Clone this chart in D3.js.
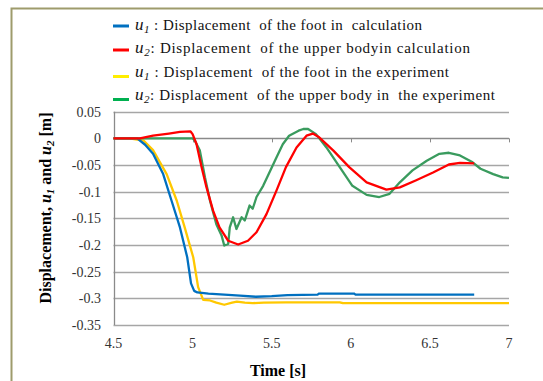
<!DOCTYPE html>
<html><head><meta charset="utf-8">
<script src="https://cdn.jsdelivr.net/npm/d3@7"></script>
<style>
html,body{margin:0;padding:0;background:#fff;}
svg{display:block;}
text{font-family:"Liberation Serif","Times New Roman",serif;}
</style></head>
<body>
<svg id="c" width="543" height="381"></svg>
<script>
// ---- data ----
const xTicks = [4.5, 5, 5.5, 6, 6.5, 7];
const yTicks = [0.05, 0, -0.05, -0.1, -0.15, -0.2, -0.25, -0.3, -0.35];

const footCalcT = [4.5, 4.65, 4.7, 4.75, 4.814, 4.867, 4.92, 4.966, 4.99, 5.01, 5.03, 5.1, 5.2, 5.3, 5.4, 5.5, 5.6, 5.79, 5.8, 6.02, 6.03, 6.5, 6.78];
const footCalcV = [0, 0, -0.012, -0.029, -0.067, -0.117, -0.167, -0.223, -0.272, -0.286, -0.289, -0.291, -0.293, -0.295, -0.297, -0.296, -0.294, -0.293, -0.291, -0.291, -0.293, -0.293, -0.293];

const bodyCalcT = [4.5, 4.667, 4.75, 4.85, 4.92, 4.987, 5.0, 5.025, 5.057, 5.088, 5.13, 5.17, 5.225, 5.288, 5.35, 5.404, 5.467, 5.53, 5.59, 5.657, 5.72, 5.76, 5.8, 5.89, 5.99, 6.1, 6.225, 6.31, 6.41, 6.52, 6.62, 6.69, 6.78];
const bodyCalcV = [0, 0, 0.005, 0.009, 0.012, 0.013, 0.008, -0.011, -0.054, -0.092, -0.136, -0.167, -0.192, -0.199, -0.192, -0.176, -0.142, -0.098, -0.054, -0.017, 0.005, 0.009, 0.002, -0.023, -0.054, -0.0825, -0.096, -0.092, -0.079, -0.064, -0.049, -0.046, -0.047];

const footExpT = [4.5, 4.6, 4.69, 4.75, 4.836, 4.9, 4.95, 5.004, 5.035, 5.067, 5.11, 5.15, 5.2, 5.25, 5.28, 5.33, 5.38, 5.45, 5.59, 5.93, 5.95, 7.0];
const footExpV = [0, 0, -0.004, -0.022, -0.067, -0.117, -0.167, -0.223, -0.279, -0.303, -0.304, -0.308, -0.312, -0.308, -0.306, -0.308, -0.309, -0.308, -0.3075, -0.3075, -0.309, -0.309];

const bodyExpT = [4.5, 5.0, 5.014, 5.046, 5.078, 5.11, 5.15, 5.183, 5.2, 5.225, 5.235, 5.256, 5.277, 5.31, 5.33, 5.36, 5.38, 5.404, 5.446, 5.49, 5.53, 5.57, 5.61, 5.67, 5.7, 5.73, 5.78, 5.846, 5.93, 6.01, 6.1, 6.18, 6.245, 6.31, 6.39, 6.48, 6.56, 6.62, 6.69, 6.77, 6.82, 6.9, 6.96, 7.0];
const bodyExpV = [0, 0, -0.004, -0.023, -0.073, -0.117, -0.161, -0.182, -0.201, -0.198, -0.167, -0.148, -0.17, -0.148, -0.154, -0.126, -0.132, -0.11, -0.089, -0.061, -0.036, -0.011, 0.005, 0.0144, 0.0176, 0.0176, 0.008, -0.017, -0.054, -0.089, -0.106, -0.11, -0.104, -0.0825, -0.06, -0.042, -0.029, -0.027, -0.032, -0.045, -0.057, -0.067, -0.073, -0.074];

const seriesSub = ["1", "2", "1", "2"];
const seriesLabels = [
  " : Displacement  of the foot in  calculation",
  ": Displacement  of the upper bodyin calculation",
  " : Displacement  of the foot in the experiment",
  ": Displacement  of the upper body in  the experiment"
];
const lineColors = ["#0070c0", "#ff0000", "#ffc800", "#3a9b5e"];
const legendColors = ["#0070c0", "#ff0000", "#ffee00", "#00b050"];

// ---- layout ----
const svg = d3.select("#c");
const x = d3.scaleLinear().domain([4.5, 7]).range([113.5, 509]);
const y = d3.scaleLinear().domain([-0.35, 0.05]).range([325, 111.7]);

// outer frame
svg.append("rect").attr("x", 11.5).attr("y", 8.5).attr("width", 560).attr("height", 400)
  .attr("fill", "#fff").attr("stroke", "#9e9b6c").attr("stroke-width", 2);

// gridlines
svg.append("g").selectAll("line").data(yTicks).join("line")
  .attr("x1", x(4.5)).attr("x2", x(7))
  .attr("y1", d => Math.round(y(d)) + 0.5).attr("y2", d => Math.round(y(d)) + 0.5)
  .attr("stroke", d => d === 0 ? "#8a8a8a" : "#a6a6a6").attr("stroke-width", 1.3);

// left axis line
svg.append("line").attr("x1", Math.round(x(4.5)) + 0.5).attr("x2", Math.round(x(4.5)) + 0.5)
  .attr("y1", y(0.05)).attr("y2", y(-0.35)).attr("stroke", "#8a8a8a").attr("stroke-width", 1.3);

// ticks on zero line
svg.append("g").selectAll("line").data(xTicks).join("line")
  .attr("x1", d => Math.round(x(d)) + 0.5).attr("x2", d => Math.round(x(d)) + 0.5)
  .attr("y1", y(0)).attr("y2", y(0) + 4).attr("stroke", "#8a8a8a").attr("stroke-width", 1);

// tick labels
svg.append("g").selectAll("text").data(yTicks).join("text")
  .attr("x", 101).attr("y", d => y(d)).attr("dy", "0.35em")
  .attr("text-anchor", "end").attr("font-size", 14).attr("fill", "#333")
  .text(d => d === 0 ? "0" : String(d));
svg.append("g").selectAll("text").data(xTicks).join("text")
  .attr("x", d => x(d)).attr("y", 343).attr("dy", "0.35em")
  .attr("text-anchor", "middle").attr("font-size", 14).attr("fill", "#333")
  .text(d => String(d));

// axis titles
svg.append("text").attr("x", 278).attr("y", 370).attr("dy", "0.35em")
  .attr("text-anchor", "middle").attr("font-size", 16).attr("font-weight", "bold")
  .text("Time [s]");
const yt = svg.append("text").attr("transform", "translate(45,208) rotate(-90)")
  .attr("text-anchor", "middle").attr("dy", "0.35em").attr("font-size", 16).attr("font-weight", "bold");
yt.append("tspan").text("Displacement, ");
yt.append("tspan").attr("font-style", "italic").text("u");
yt.append("tspan").attr("font-style", "italic").attr("font-size", 11).attr("baseline-shift", "-3").text("1");
yt.append("tspan").text(" and ");
yt.append("tspan").attr("font-style", "italic").text("u");
yt.append("tspan").attr("font-style", "italic").attr("font-size", 11).attr("baseline-shift", "-3").text("2");
yt.append("tspan").text(" [m]");

// series
const series = [
  {t: footCalcT, v: footCalcV},
  {t: bodyCalcT, v: bodyCalcV},
  {t: footExpT, v: footExpV},
  {t: bodyExpT, v: bodyExpV}
];
const line = d3.line().x(d => x(d[0])).y(d => y(d[1]));
const drawOrder = [2, 0, 3, 1];
drawOrder.forEach(i => {
  const s = series[i];
  svg.append("path").datum(s.t.map((t, k) => [t, s.v[k]]))
    .attr("d", line).attr("fill", "none").attr("stroke", lineColors[i])
    .attr("stroke-width", 2.3).attr("stroke-linejoin", "round");
});

// legend
const legY = [25, 48, 72, 95];
const legMarkY = [26, 50, 76.5, 99.5];
const legLen = [287, 335, 314, 360];
seriesLabels.forEach((lab, i) => {
  svg.append("line").attr("x1", 113).attr("x2", 129)
    .attr("y1", legMarkY[i]).attr("y2", legMarkY[i])
    .attr("stroke", legendColors[i]).attr("stroke-width", 3);
  const t = svg.append("text").attr("x", 135).attr("y", legY[i]).attr("dy", "0.35em")
    .attr("font-size", 15).attr("fill", "#111").style("white-space", "pre")
    .attr("textLength", legLen[i]).attr("lengthAdjust", "spacing");
  t.append("tspan").attr("font-style", "italic").attr("font-size", 17).text("u");
  t.append("tspan").attr("font-style", "italic").attr("font-size", 11).attr("baseline-shift", "-3").text(seriesSub[i]);
  t.append("tspan").text(lab);
});
</script>
</body></html>
